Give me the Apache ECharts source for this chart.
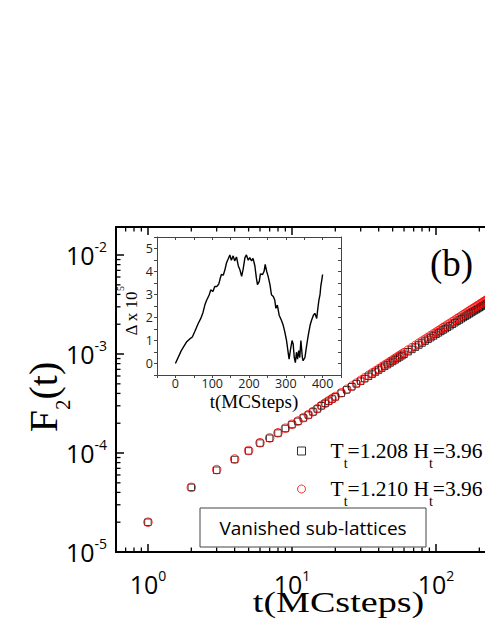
<!DOCTYPE html>
<html>
<head>
<meta charset="utf-8">
<script src="https://cdn.jsdelivr.net/npm/echarts@6/dist/echarts.min.js"></script>
<style>
html, body { margin: 0; padding: 0; overflow: hidden; background: #fff; }
#chart { width: 600px; height: 627px; }
</style>
</head>
<body>
<div id="chart"></div>
<script>
// main panel: F2(t) against t (MC steps)
var steps = [1,2,3,4,5,6,7,8,9,10,11,12,13,14,15,16,17,18,19,20,
	22,24,26,28,30,32,34,36,38,40,42,44,46,48,50,52,54,56,58,60,
	64,68,72,76,80,84,88,92,96,100,104,108,112,116,120,
	125,130,135,140,145,150,155,160,165,170,175,180,185,190,195,200,205,210,215,220,225,230,235,240,245,250];
var redF = [2.0e-5,4.5e-5,6.8e-5,8.7e-5,1.06e-4,1.27e-4,1.42e-4,1.60e-4,1.78e-4,1.95e-4,
	2.10e-4,2.28e-4,2.44e-4,2.62e-4,2.81e-4,3.02e-4,3.19e-4,3.37e-4,3.54e-4,3.72e-4,
	4.06e-4,4.40e-4,4.74e-4,5.08e-4,5.42e-4,5.75e-4,6.09e-4,6.42e-4,6.75e-4,7.08e-4,
	7.41e-4,7.74e-4,8.06e-4,8.39e-4,8.71e-4,9.04e-4,9.36e-4,9.68e-4,1.000e-3,1.032e-3,
	1.096e-3,1.159e-3,1.223e-3,1.286e-3,1.349e-3,1.412e-3,1.474e-3,1.536e-3,1.598e-3,1.660e-3,
	1.721e-3,1.783e-3,1.844e-3,1.906e-3,1.967e-3,
	2.042e-3,2.118e-3,2.193e-3,2.269e-3,2.345e-3,2.420e-3,2.494e-3,2.570e-3,2.646e-3,2.718e-3,
	2.792e-3,2.867e-3,2.942e-3,3.015e-3,3.089e-3,3.161e-3,3.237e-3,3.309e-3,3.381e-3,3.455e-3,
	3.528e-3,3.602e-3,3.674e-3,3.746e-3,3.820e-3,3.890e-3];
var blackF = [2.0e-5,4.5e-5,6.7e-5,8.6e-5,1.05e-4,1.26e-4,1.41e-4,1.59e-4,1.77e-4,1.94e-4,
	2.09e-4,2.26e-4,2.42e-4,2.60e-4,2.79e-4,3.00e-4,3.17e-4,3.34e-4,3.51e-4,3.69e-4,
	4.02e-4,4.35e-4,4.67e-4,5.00e-4,5.32e-4,5.64e-4,5.96e-4,6.27e-4,6.58e-4,6.89e-4,
	7.20e-4,7.51e-4,7.81e-4,8.12e-4,8.42e-4,8.73e-4,9.03e-4,9.34e-4,9.64e-4,9.94e-4,
	1.055e-3,1.114e-3,1.174e-3,1.233e-3,1.292e-3,1.351e-3,1.408e-3,1.465e-3,1.523e-3,1.580e-3,
	1.636e-3,1.693e-3,1.749e-3,1.805e-3,1.861e-3,
	1.929e-3,1.999e-3,2.068e-3,2.137e-3,2.206e-3,2.275e-3,2.342e-3,2.411e-3,2.479e-3,2.544e-3,
	2.611e-3,2.678e-3,2.745e-3,2.810e-3,2.876e-3,2.940e-3,3.008e-3,3.071e-3,3.134e-3,3.199e-3,
	3.263e-3,3.328e-3,3.391e-3,3.453e-3,3.518e-3,3.578e-3];
var seriesNames = ['T_t=1.208 H_t=3.96', 'T_t=1.210 H_t=3.96'];

// inset: Delta x 10^5 against t
var insetT = [0,16,30,39,46,53,62,69,75,80,84,92,96,102,107,113,118,121,125,130,
	134,139,143,148,152,157,161,166,171,175,180,184,189,193,198,202,207,211,216,220,
	223,228,231,237,241,244,248,252,257,261,266,270,273,277,282,288,293,297,302,307,
	309,313,317,320,323,326,329,332,335,338,341,345,347,352,356,361,366,370,375,379,
	384,386,390,393,395,398,400];
var insetDelta = [0,0.56,0.93,1.07,1.15,1.4,1.74,1.96,2.22,2.54,2.72,2.99,3.2,3.13,3.35,3.35,3.46,3.65,3.87,3.84,
	4.04,4.38,4.53,4.72,4.49,4.68,4.46,4.63,4.24,4.09,3.79,4.09,4.6,4.72,4.49,4.6,4.46,4.57,4.24,3.72,
	3.43,3.57,3.9,3.87,4.01,4.31,4.01,3.79,3.43,2.99,2.91,2.76,2.4,2.54,2.1,1.88,1.66,1.4,1.0,0.41,
	0.19,0.63,1.0,0.85,0.26,0.04,0.49,0.19,0.56,0.26,1.0,0.26,0.12,0.26,0.71,1.22,1.66,1.88,2.1,2.18,
	1.96,2.25,2.76,2.99,3.35,3.65,3.87];

// minor tick positions of the log axes
var xMinorTicks = [0.6,0.7,0.8,0.9,2,3,4,5,6,7,8,9,20,30,40,50,60,70,80,90,200,300,400,500,600,700,800,900];
var yMinorTicks = [2e-5,3e-5,4e-5,5e-5,6e-5,7e-5,8e-5,9e-5,2e-4,3e-4,4e-4,5e-4,6e-4,7e-4,8e-4,9e-4,
	2e-3,3e-3,4e-3,5e-3,6e-3,7e-3,8e-3,9e-3];

var serif = 'Liberation Serif';
var sans = 'Open Sans';

function powLabel(v) {
	var e = Math.round(Math.log(v) / Math.LN10);
	return '{b|10}{sup|' + e + '}';
}
var powRich = {
	b: {fontFamily: sans, fontSize: 25, lineHeight: 36, color: '#000'},
	sup: {fontFamily: sans, fontSize: 14, lineHeight: 14, padding: [0, 0, 18, 0], color: '#000'}
};

function pairs(xs, ys) {
	return xs.map(function (x, i) { return [x, ys[i]]; });
}

var mainLine = {onZero: false, lineStyle: {color: '#000', width: 2}};
var mainTick = {inside: true, length: 8, lineStyle: {color: '#000', width: 1.5}};
var insetLine = {onZero: false, lineStyle: {color: '#444', width: 1}};

var chart = echarts.init(document.getElementById('chart'), null, {renderer: 'svg'});
var option = {
	animation: false,
	backgroundColor: '#fff',
	grid: [
		{left: 116, top: 227, right: 20, bottom: 75, containLabel: false, outerBoundsMode: 'none'},
		{left: 157, top: 237, width: 184, height: 138, containLabel: false, outerBoundsMode: 'none', show: true, backgroundColor: '#fff', borderWidth: 0}
	],
	xAxis: [
		{
			type: 'log', logBase: 10, gridIndex: 0, position: 'bottom', min: 0.6, max: 1000,
			axisLine: mainLine, axisTick: mainTick, splitLine: {show: false},
			axisLabel: {margin: 14, showMinLabel: false, showMaxLabel: false, formatter: powLabel, rich: powRich}
		},
		{
			type: 'log', logBase: 10, gridIndex: 0, position: 'top', min: 0.6, max: 1000,
			axisLine: mainLine, axisTick: mainTick, splitLine: {show: false}, axisLabel: {show: false}
		},
		{
			type: 'value', gridIndex: 1, position: 'bottom', min: -50, max: 450, interval: 50,
			axisLine: insetLine, axisTick: {inside: false, length: 3, lineStyle: {color: '#444'}},
			splitLine: {show: false},
			axisLabel: {
				margin: 2, fontFamily: sans, fontSize: 12.5, lineHeight: 12, color: '#222',
				formatter: function (v) { return (v >= 0 && v % 100 === 0) ? String(v) : ''; }
			}
		},
		{
			type: 'value', gridIndex: 1, position: 'top', min: -50, max: 450, interval: 50,
			axisLine: insetLine, axisTick: {inside: true, length: 3, lineStyle: {color: '#444'}},
			splitLine: {show: false}, axisLabel: {show: false}
		}
	],
	yAxis: [
		{
			type: 'log', logBase: 10, gridIndex: 0, position: 'left', min: 1.0001e-5, max: 0.0192,
			axisLine: mainLine, axisTick: mainTick, splitLine: {show: false},
			axisLabel: {margin: 9, showMaxLabel: false, formatter: powLabel, rich: powRich}
		},
		{
			type: 'value', gridIndex: 1, position: 'left', min: -0.5, max: 5.5, interval: 0.5,
			axisLine: insetLine, axisTick: {inside: false, length: 3, lineStyle: {color: '#444'}},
			splitLine: {show: false},
			axisLabel: {
				margin: 4, fontFamily: sans, fontSize: 12.5, color: '#222',
				formatter: function (v) { return (v >= 0 && v % 1 === 0) ? String(v) : ''; }
			}
		},
		{
			type: 'value', gridIndex: 1, position: 'right', min: -0.5, max: 5.5, interval: 0.5,
			axisLine: insetLine, axisTick: {inside: true, length: 3, lineStyle: {color: '#444'}},
			splitLine: {show: false}, axisLabel: {show: false}
		},
		{
			type: 'log', logBase: 10, gridIndex: 0, position: 'right', min: 1.0001e-5, max: 0.0192,
			axisLine: mainLine, axisTick: mainTick, splitLine: {show: false}, axisLabel: {show: false}
		}
	],
	legend: {
		orient: 'vertical', left: 297, top: 432, padding: 0,
		itemWidth: 8, itemHeight: 8, itemGap: 0, selectedMode: false,
		data: seriesNames,
		itemStyle: {borderWidth: 1},
		formatter: function (name) {
			return '{g| }{n|' + name.split('_t').join('}{s|t}{n|') + '}';
		},
		textStyle: {
			rich: {
				g: {width: 20},
				n: {fontFamily: serif, fontSize: 21.5, lineHeight: 36, color: '#000'},
				s: {fontFamily: serif, fontSize: 14, lineHeight: 12, padding: [24, 0, 0, 0], color: '#000'}
			}
		}
	},
	series: [
		{
			name: seriesNames[0], type: 'scatter', xAxisIndex: 0, yAxisIndex: 0,
			symbol: 'rect', symbolSize: 6.5,
			itemStyle: {color: 'rgba(0,0,0,0)', borderColor: '#000', borderWidth: 1},
			data: pairs(steps, blackF), z: 3
		},
		{
			name: seriesNames[1], type: 'scatter', xAxisIndex: 0, yAxisIndex: 0,
			symbol: 'circle', symbolSize: 8.5,
			itemStyle: {color: 'rgba(0,0,0,0)', borderColor: '#ff0000', borderWidth: 1},
			data: pairs(steps, redF), z: 4
		},
		{
			type: 'custom', xAxisIndex: 0, yAxisIndex: 0, silent: true, clip: false, z: 6,
			data: xMinorTicks.map(function (v) { return [v, 1e-4]; }),
			renderItem: function (params, api) {
				var cs = params.coordSys;
				var x = api.coord([api.value(0), api.value(1)])[0];
				var st = {stroke: '#000', lineWidth: 1.3};
				return {type: 'group', children: [
					{type: 'line', shape: {x1: x, y1: cs.y + cs.height, x2: x, y2: cs.y + cs.height - 4.5}, style: st},
					{type: 'line', shape: {x1: x, y1: cs.y, x2: x, y2: cs.y + 4.5}, style: st}
				]};
			}
		},
		{
			type: 'custom', xAxisIndex: 0, yAxisIndex: 0, silent: true, clip: false, z: 6,
			data: yMinorTicks.map(function (v) { return [1, v]; }),
			renderItem: function (params, api) {
				var cs = params.coordSys;
				var y = api.coord([api.value(0), api.value(1)])[1];
				var st = {stroke: '#000', lineWidth: 1.3};
				return {type: 'group', children: [
					{type: 'line', shape: {x1: cs.x, y1: y, x2: cs.x + 4.5, y2: y}, style: st},
					{type: 'line', shape: {x1: cs.x + cs.width, y1: y, x2: cs.x + cs.width - 4.5, y2: y}, style: st}
				]};
			}
		},
		{
			type: 'line', xAxisIndex: 2, yAxisIndex: 1, showSymbol: false, symbol: 'none',
			lineStyle: {color: '#000', width: 1.4}, data: pairs(insetT, insetDelta), z: 5
		}
	],
	graphic: [
		{
			type: 'text', x: 43, y: 397, rotation: Math.PI / 2, z: 10,
			style: {
				text: '{n|F}{s|2}{n|(t)}', align: 'center', verticalAlign: 'middle', fill: '#000',
				rich: {
					n: {fontFamily: serif, fontSize: 40, lineHeight: 56},
					s: {fontFamily: serif, fontSize: 21, lineHeight: 14, padding: [39, 0, 0, 0]}
				}
			}
		},
		{
			type: 'text', x: 338.5, y: 602, scaleX: 1.27, z: 10,
			style: {text: 't(MCsteps)', fontFamily: serif, fontSize: 30, fill: '#000', align: 'center', verticalAlign: 'middle'}
		},
		{
			type: 'text', x: 451.5, y: 263, z: 10,
			style: {text: '(b)', fontFamily: serif, fontSize: 37, fill: '#000', align: 'center', verticalAlign: 'middle'}
		},
		{
			type: 'text', x: 254, y: 401, z: 10,
			style: {text: 't(MCSteps)', fontFamily: serif, fontSize: 19, lineHeight: 18, fill: '#000', align: 'center', verticalAlign: 'middle'}
		},
		{
			type: 'text', x: 131, y: 311, rotation: Math.PI / 2, z: 10,
			style: {
				text: '{n|\u0394 x 10}{p|5}', align: 'center', verticalAlign: 'middle', fill: '#000',
				rich: {
					n: {fontFamily: serif, fontSize: 17, lineHeight: 34},
					p: {fontFamily: serif, fontSize: 10, lineHeight: 10, padding: [0, 0, 22, 0]}
				}
			}
		},
		{
			type: 'rect', z: 10, shape: {x: 200, y: 508, width: 226, height: 39},
			style: {fill: '#fff', stroke: '#444', lineWidth: 1}
		},
		{
			type: 'text', x: 313, y: 527.5, z: 11,
			style: {text: 'Vanished sub-lattices', fontFamily: sans, fontSize: 19, fill: '#000', align: 'center', verticalAlign: 'middle'}
		}
	]
};
chart.setOption(option);
</script>
</body>
</html>
